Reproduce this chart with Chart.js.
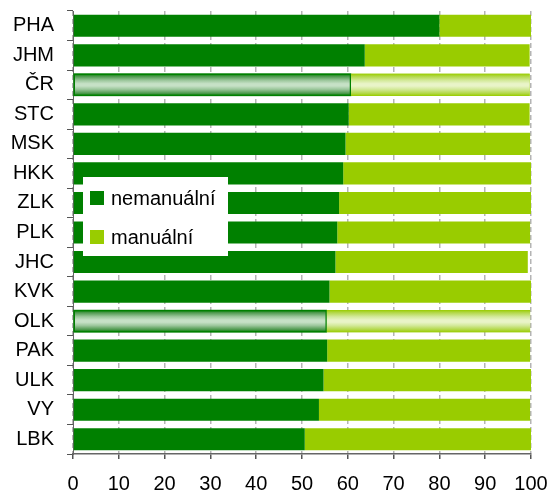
<!DOCTYPE html>
<html>
<head>
<meta charset="utf-8">
<script src="https://cdn.jsdelivr.net/npm/chart.js@4/dist/chart.umd.min.js"></script>
<style>
  html, body { margin: 0; padding: 0; background: #fff; }
  #wrap { width: 552px; height: 495px; position: relative; }
</style>
</head>
<body>
<div id="wrap"><canvas id="chart"></canvas></div>
<script>
// regions (top to bottom)
const regions = ['PHA', 'JHM', 'ČR', 'STC', 'MSK', 'HKK', 'ZLK', 'PLK', 'JHC', 'KVK', 'OLK', 'PAK', 'ULK', 'VY', 'LBK'];
// share in %
const nemanualni = [80.0, 63.7, 60.7, 60.2, 59.5, 59.0, 58.1, 57.7, 57.3, 56.0, 55.4, 55.5, 54.7, 53.7, 50.6];
const manualni   = [20.0, 36.0, 39.0, 39.5, 40.3, 41.0, 41.9, 42.1, 42.0, 44.0, 44.4, 44.3, 45.3, 46.1, 49.4];
const xTicks = [0, 10, 20, 30, 40, 50, 60, 70, 80, 90, 100];
// highlighted rows (ČR, OLK)
const highlighted = ['ČR', 'OLK'];

const DARK = '#008000';
const LIGHT = '#99cc00';
const FONT = '"Liberation Sans", Arial, sans-serif';

// gradient stripes for highlighted bars
const gradStops = {
  0: [[0, '#008000'], [0.12, '#4f9a4f'], [0.3, '#9cc79c'], [0.45, '#c6e1c6'], [0.55, '#c6e1c6'], [0.7, '#9cc79c'], [0.88, '#4f9a4f'], [1, '#008000']],
  1: [[0, '#99cc00'], [0.12, '#b3d84a'], [0.3, '#d3e99a'], [0.45, '#e9f4c8'], [0.55, '#e9f4c8'], [0.7, '#d3e99a'], [0.88, '#b3d84a'], [1, '#99cc00']]
};

const highlightPlugin = {
  id: 'highlightBars',
  afterDatasetsDraw(chart) {
    const ctx = chart.ctx;
    chart.data.datasets.forEach((ds, di) => {
      const meta = chart.getDatasetMeta(di);
      meta.data.forEach((bar, i) => {
        if (!highlighted.includes(regions[i])) return;
        const { x, y, base, height } = bar.getProps(['x', 'y', 'base', 'height'], true);
        const top = y - height / 2;
        const g = ctx.createLinearGradient(0, top, 0, top + height);
        gradStops[di].forEach(s => g.addColorStop(s[0], s[1]));
        ctx.save();
        ctx.fillStyle = g;
        ctx.fillRect(base, top, x - base, height);
        if (di === 0) {
          ctx.strokeStyle = DARK;
          ctx.lineWidth = 1.5;
          ctx.strokeRect(base + 0.5, top + 0.5, x - base - 1, height - 1);
        }
        ctx.restore();
      });
    });
  }
};

// legend box inside the plot
const boxLegend = {
  id: 'boxLegend',
  afterDraw(chart) {
    const ctx = chart.ctx;
    ctx.save();
    ctx.fillStyle = '#fff';
    ctx.fillRect(83, 177, 145, 79);
    chart.data.datasets.forEach((ds, i) => {
      const cy = 198 + i * 39;
      ctx.fillStyle = ds.backgroundColor;
      ctx.fillRect(90, cy - 7, 14, 14);
      ctx.fillStyle = '#000';
      ctx.font = '20px ' + FONT;
      ctx.textBaseline = 'middle';
      ctx.fillText(ds.label, 111, cy + 1);
    });
    ctx.restore();
  }
};

new Chart(document.getElementById('chart'), {
  type: 'bar',
  data: {
    labels: regions,
    datasets: [
      { label: 'nemanuální', data: nemanualni, backgroundColor: DARK },
      { label: 'manuální', data: manualni, backgroundColor: LIGHT }
    ]
  },
  options: {
    indexAxis: 'y',
    responsive: true,
    maintainAspectRatio: false,
    animation: false,
    barPercentage: 0.75,
    categoryPercentage: 1,
    layout: { padding: { top: 11, right: 21, left: 0, bottom: 0 } },
    scales: {
      x: {
        stacked: true,
        min: 0,
        max: 100,
        afterBuildTicks: (scale) => { scale.ticks = xTicks.map(v => ({ value: v })); },
        afterFit: (scale) => { scale.height = 41; scale.paddingLeft = 0; scale.paddingRight = 0; },
        grid: {
          color: '#b4b4b4',
          lineWidth: 1.5,
          drawTicks: true,
          tickLength: 5,
          tickColor: '#555',
          tickBorderDash: []
        },
        border: { display: true, color: '#666', width: 1.5, dash: [5, 3] },
        ticks: { color: '#000', font: { size: 20, family: FONT }, padding: 13, maxRotation: 0 }
      },
      y: {
        stacked: true,
        afterFit: (scale) => { scale.width = 73; scale.paddingTop = 0; scale.paddingBottom = 0; },
        grid: {
          drawOnChartArea: false,
          drawTicks: true,
          tickLength: 6,
          tickColor: '#555',
          offset: true
        },
        border: { display: true, color: '#666', width: 1 },
        ticks: { color: '#000', font: { size: 20, family: FONT }, padding: 13 }
      }
    },
    plugins: {
      legend: { display: false },
      tooltip: { enabled: false }
    }
  },
  plugins: [highlightPlugin, boxLegend]
});
</script>
</body>
</html>
